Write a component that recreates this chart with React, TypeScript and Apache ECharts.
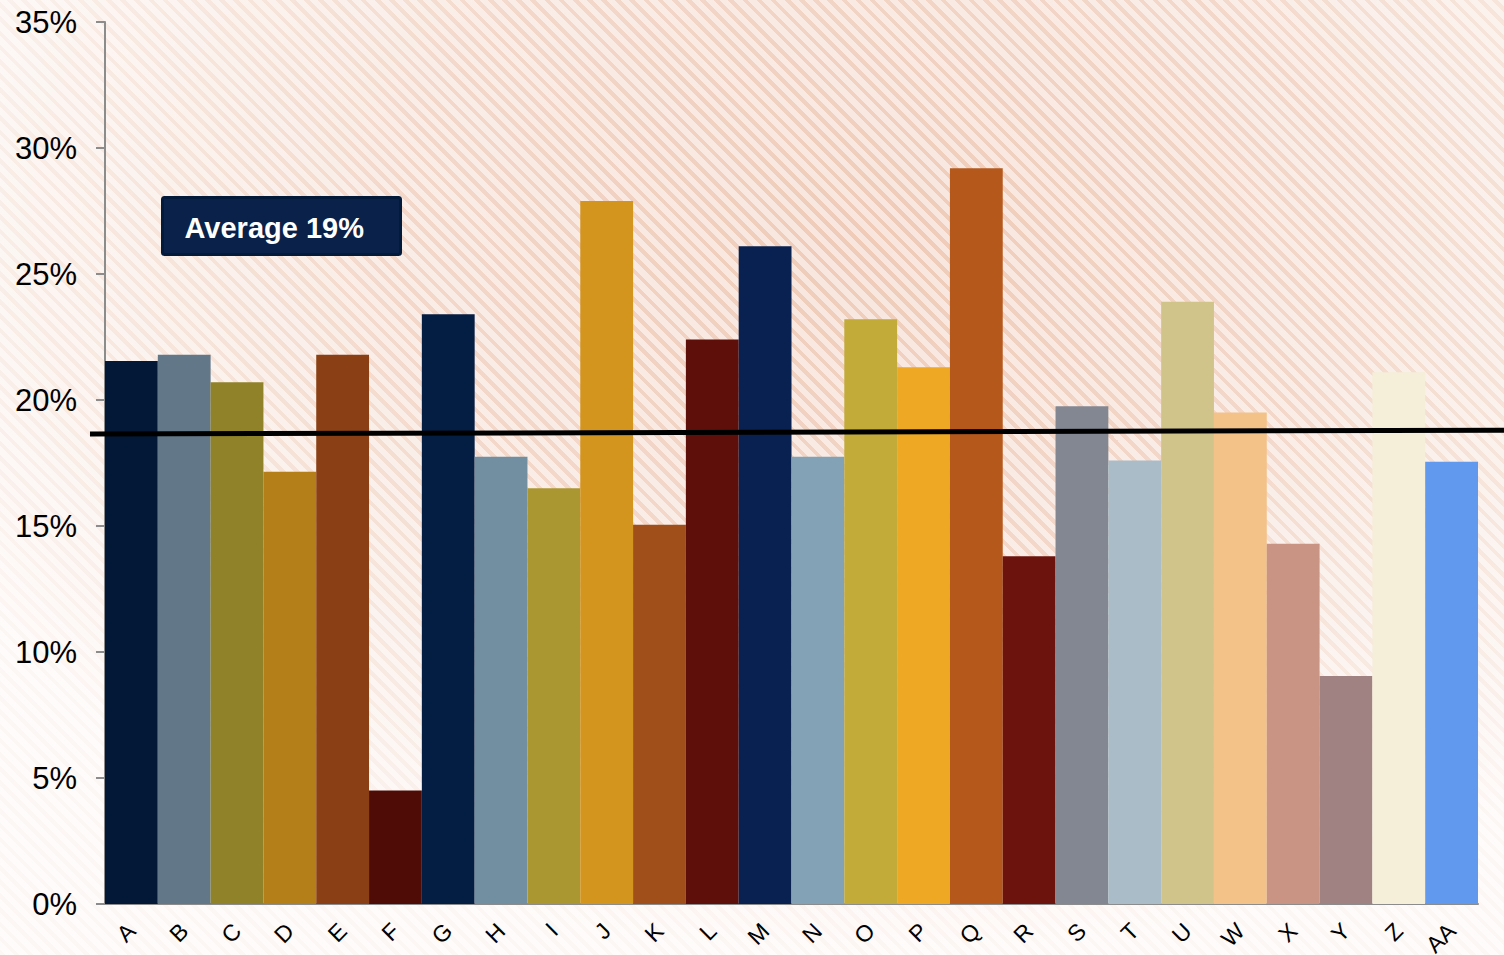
import React, { useEffect, useRef } from "react";
import * as echarts from "echarts";

const categories = ["A","B","C","D","E","F","G","H","I","J","K","L","M","N","O","P","Q","R","S","T","U","W","X","Y","Z","AA"];
const values = [21.55,21.8,20.7,17.15,21.8,4.5,23.4,17.75,16.5,27.9,15.05,22.4,26.1,17.75,23.2,21.3,29.2,13.8,19.75,17.6,23.9,19.5,14.3,9.05,21.1,17.55];
const colors = ["#031836","#627888","#8f8228","#b47e18","#8b3f14","#4f0c06","#041d42","#728fa2","#ab9731","#d3951e","#a04f1b","#5e0f0a","#082150","#83a2b5","#c2ab38","#eea823","#b5581c","#6b130c","#838792","#a9bcc7","#d1c48b","#f3c289","#c99484","#a08283","#f5eed8","#6199ef"];
const yTicks = [0, 5, 10, 15, 20, 25, 30, 35];
const averageLine = [[0, 18.65], [1, 18.8]];
const averageLabel = "Average 19%";

export default function App() {
  const ref = useRef<HTMLDivElement>(null);
  useEffect(() => {
    document.body.style.margin = "0";
    const chart = echarts.init(ref.current!, null, { renderer: "svg" });
    chart.setOption({
      animation: false,
      grid: [
        { left: 105, right: 26, top: 22, bottom: 51, containLabel: false, outerBoundsMode: "none" },
        { left: 90, right: 0, top: 22, bottom: 51, containLabel: false, outerBoundsMode: "none" },
      ],
      xAxis: [
        {
          type: "category",
          data: categories,
          gridIndex: 0,
          axisLine: { lineStyle: { color: "#8c8c8c", width: 2 } },
          axisTick: { show: false },
          axisLabel: { rotate: 45, fontSize: 23, color: "#000", fontFamily: "Liberation Sans, Arial", margin: 23 },
        },
        { type: "value", gridIndex: 1, min: 0, max: 1, show: false },
      ],
      yAxis: [
        {
          type: "value",
          gridIndex: 0,
          min: yTicks[0],
          max: yTicks[yTicks.length - 1],
          interval: 5,
          axisLine: { show: true, lineStyle: { color: "#8c8c8c", width: 2 } },
          axisTick: { show: true, length: 9, lineStyle: { color: "#8c8c8c", width: 2 } },
          splitLine: { show: false },
          axisLabel: { formatter: "{value}%", fontSize: 31, color: "#000", fontFamily: "Liberation Sans, Arial", margin: 28 },
        },
        { type: "value", gridIndex: 1, min: 0, max: 35, show: false },
      ],
      series: [
        {
          type: "bar",
          xAxisIndex: 0,
          yAxisIndex: 0,
          barCategoryGap: "0%",
          data: values.map((v, i) => ({ value: v, itemStyle: { color: colors[i] } })),
        },
        {
          type: "line",
          xAxisIndex: 1,
          yAxisIndex: 1,
          data: averageLine,
          showSymbol: false,
          symbol: "none",
          lineStyle: { color: "#000", width: 5 },
          z: 5,
        },
      ],
      graphic: [
        {
          type: "group",
          left: 161,
          top: 196,
          children: [
            { type: "rect", shape: { x: 0, y: 0, width: 238, height: 57, r: 2 }, style: { fill: "#0a2149", stroke: "#041a3a", lineWidth: 3 } },
            { type: "text", x: 22, y: 30, style: { text: averageLabel, fill: "#fff", font: "bold 29px Liberation Sans, Arial", textVerticalAlign: "middle" } },
          ],
        },
      ],
    });
    return () => chart.dispose();
  }, []);
  return (
    <div
      style={{
        position: "fixed",
        left: 0,
        top: 0,
        width: 1504,
        height: 955,
        background:
          "radial-gradient(ellipse 70% 75% at 58% 25%, rgba(255,255,255,0) 0%, rgba(255,255,255,0.25) 45%, rgba(255,255,255,0.85) 100%), repeating-linear-gradient(45deg, #efcbb8 0px, #efcbb8 4px, #f8e6de 4px, #f8e6de 10px)",
      }}
    >
      <div ref={ref} style={{ width: 1504, height: 955 }} />
    </div>
  );
}
